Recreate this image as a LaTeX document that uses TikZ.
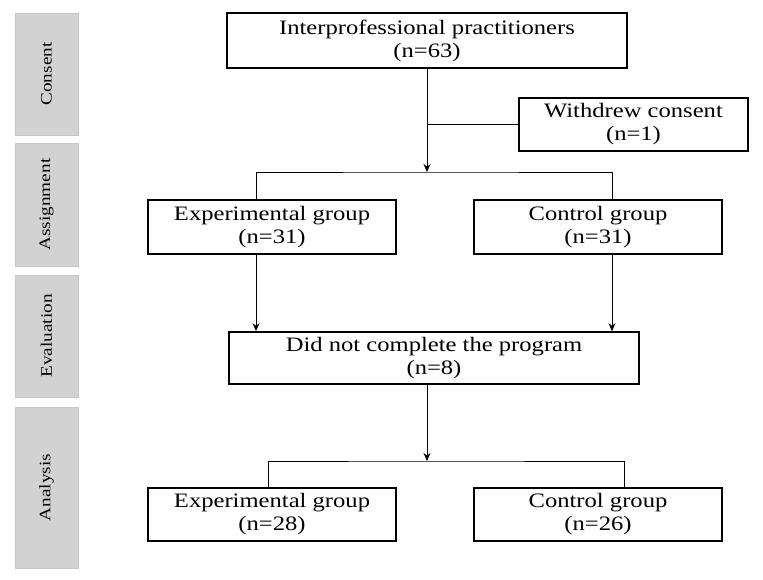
\documentclass[tikz,border=0pt]{standalone}
\usepackage{fontspec}
\setmainfont[FakeStretch=1.2]{Liberation Serif}
\usetikzlibrary{arrows.meta, positioning, calc}

\begin{document}
\begin{tikzpicture}[
  x=1pt, y=-1pt,
  fbox/.style={rectangle, draw, line width=1.6pt, align=center,
               inner sep=0pt, font=\fontsize{20.5}{23}\selectfont},
  stage/.style={rectangle, draw=gray!45, fill=gray!35, minimum width=63pt,
                inner sep=0pt, font=\fontsize{16}{18}\selectfont},
  arr/.style={-{Stealth[length=8pt,width=7pt]}, line width=0.8pt},
  ln/.style={line width=0.8pt}
]
\useasboundingbox (0,0) rectangle (763,580);

%% --- Stage panels (left column) ---
\node[stage, minimum height=122pt] (pcons) at (46.5,74)  {\rotatebox{90}{Consent}};
\node[stage, minimum height=123pt] (passi) at (46.5,204.5) {\rotatebox{90}{Assignment}};
\node[stage, minimum height=122pt] (peval) at (46.5,336) {\rotatebox{90}{Evaluation}};
\node[stage, minimum height=161pt] (panal) at (46.5,487.5) {\rotatebox{90}{Analysis}};

%% --- Flow boxes ---
\node[fbox, minimum width=400pt, minimum height=55pt] (ipp) at (427,40.5)
  {Interprofessional practitioners\\(n=63)};
\node[fbox, minimum width=229pt, minimum height=53pt] (wdc) at (633.5,124.5)
  {Withdrew consent\\(n=1)};
\node[fbox, minimum width=248pt, minimum height=54pt] (exa) at (272,227)
  {Experimental group\\(n=31)};
\node[fbox, minimum width=248pt, minimum height=54pt] (cta) at (598,227)
  {Control group\\(n=31)};
\node[fbox, minimum width=410pt, minimum height=52pt] (dnc) at (434,358)
  {Did not complete the program\\(n=8)};
\node[fbox, minimum width=248pt, minimum height=53pt] (exb) at (272,514.5)
  {Experimental group\\(n=28)};
\node[fbox, minimum width=248pt, minimum height=53pt] (ctb) at (598,514.5)
  {Control group\\(n=26)};

%% --- Junctions ---
\coordinate (ja) at (427,172);
\coordinate (jw) at (427,124.5);
\coordinate (jb) at (427,461);

%% --- Connectors ---
\draw[arr] (ipp.south) -- (ja);
\draw[ln] (jw) -- (wdc.west);
\draw[ln] ([xshift=-16pt]exa.north) |- (ja) -| ([xshift=14pt]cta.north);
\draw[arr] ([xshift=-16pt]exa.south) -- ([xshift=-16pt]exa.south |- dnc.north);
\draw[arr] ([xshift=14pt]cta.south) -- ([xshift=14pt]cta.south |- dnc.north);
\draw[arr] (dnc.south -| ja) -- (jb);
\draw[ln] ([xshift=-4pt]exb.north) |- (jb) -| ([xshift=26pt]ctb.north);

\end{tikzpicture}
\end{document}
